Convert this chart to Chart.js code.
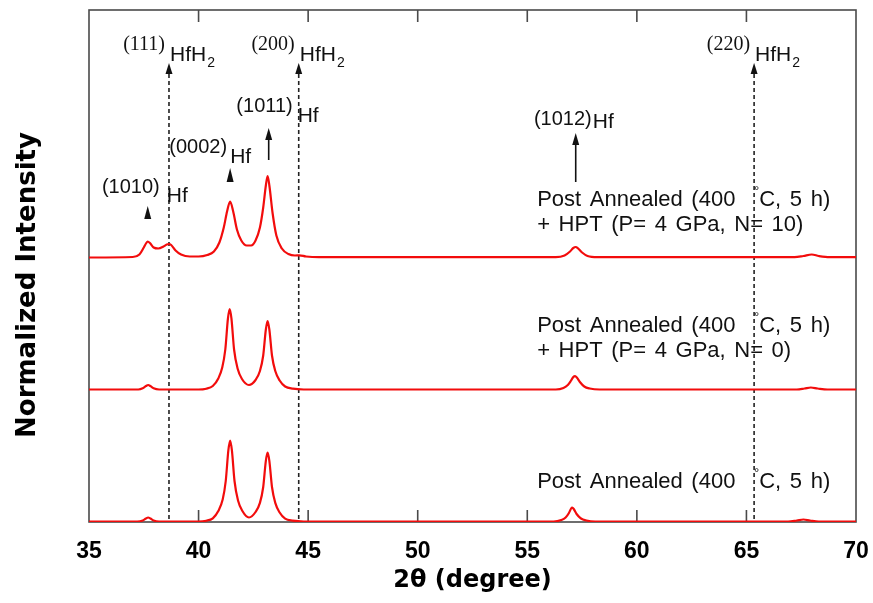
<!DOCTYPE html>
<html>
<head>
<meta charset="utf-8">
<style>
  html, body { margin: 0; padding: 0; background: #fff; }
  #xrd { display: block; }
</style>
</head>
<body>
<canvas id="xrd" width="873" height="603"></canvas>
<script src="https://cdn.jsdelivr.net/npm/chart.js@4.4.1/dist/chart.umd.min.js"></script>
<script>
// Post annealed (400 °C, 5 h), no HPT
const annealedTwoTheta = [35, 37.2, 37.45, 37.6, 37.7, 37.8, 37.95, 38.2,
  40.0, 40.35, 40.65, 40.9, 41.1, 41.24, 41.36, 41.44, 41.52, 41.64, 41.8, 42.0, 42.3,
  42.6, 42.8, 42.95, 43.07, 43.15, 43.23, 43.35, 43.5, 43.7, 43.95, 44.3, 44.8,
  56.2, 56.55, 56.75, 56.9, 57.0, 57.05, 57.12, 57.25, 57.45, 57.7, 58.1,
  66.9, 67.3, 67.6, 67.9, 68.3, 70];
const annealedIntensity = [0, 0, 0.01, 0.03, 0.04, 0.03, 0.01, 0,
  0, 0.008, 0.032, 0.105, 0.22, 0.405, 0.713, 0.81, 0.713, 0.405, 0.21, 0.105, 0.04,
  0.095, 0.186, 0.345, 0.607, 0.69, 0.607, 0.345, 0.186, 0.09, 0.028, 0.008, 0,
  0, 0.015, 0.04, 0.085, 0.13, 0.14, 0.125, 0.075, 0.03, 0.01, 0,
  0, 0.01, 0.02, 0.01, 0, 0];

// annealed + HPT, N = 0
const hpt0TwoTheta = [35, 37.25, 37.45, 37.6, 37.7, 37.8, 37.95, 38.2,
  40.0, 40.35, 40.65, 40.9, 41.08, 41.22, 41.34, 41.42, 41.5, 41.62, 41.78, 41.98, 42.3,
  42.6, 42.8, 42.95, 43.07, 43.15, 43.23, 43.35, 43.5, 43.7, 43.95, 44.3, 44.8,
  56.3, 56.65, 56.85, 57.0, 57.1, 57.18, 57.26, 57.4, 57.6, 57.85, 58.3,
  67.3, 67.65, 67.94, 68.25, 68.7, 70];
const hpt0Intensity = [0, 0, 0.012, 0.035, 0.045, 0.035, 0.012, 0,
  0, 0.008, 0.035, 0.11, 0.22, 0.40, 0.71, 0.805, 0.71, 0.40, 0.21, 0.105, 0.045,
  0.095, 0.185, 0.34, 0.60, 0.685, 0.60, 0.34, 0.185, 0.09, 0.03, 0.008, 0,
  0, 0.015, 0.045, 0.09, 0.125, 0.133, 0.12, 0.075, 0.03, 0.01, 0,
  0, 0.01, 0.02, 0.01, 0, 0];

// annealed + HPT, N = 10 (hydride peaks appear)
const hpt10TwoTheta = [35, 37.0, 37.3, 37.5, 37.6, 37.68, 37.78, 37.95, 38.16, 38.4,
  38.55, 38.65, 38.75, 38.95, 39.2, 39.6, 40.0, 40.4, 40.7, 40.95,
  41.15, 41.3, 41.44, 41.58, 41.75, 41.95, 42.2, 42.4, 42.6, 42.8,
  42.95, 43.07, 43.15, 43.23, 43.38, 43.55, 43.8, 44.1, 44.4, 44.6,
  44.9, 45.5, 56.3, 56.7, 56.95, 57.1, 57.21, 57.32, 57.5, 57.75,
  58.2, 67.2, 67.6, 67.98, 68.3, 68.8, 70];
const hpt10Intensity = [0, 0.005, 0.03, 0.1, 0.14, 0.16, 0.145, 0.1, 0.09, 0.11,
  0.13, 0.135, 0.125, 0.07, 0.03, 0.01, 0.01, 0.025, 0.06, 0.15,
  0.3, 0.46, 0.56, 0.46, 0.28, 0.17, 0.12, 0.12, 0.17, 0.3,
  0.5, 0.72, 0.815, 0.72, 0.44, 0.22, 0.09, 0.035, 0.02, 0.022,
  0.01, 0.003, 0.003, 0.02, 0.06, 0.095, 0.105, 0.09, 0.05, 0.015,
  0.003, 0.003, 0.015, 0.03, 0.015, 0.003, 0.003];

// vertical stacking of the three patterns
const curveOffsets = [0.005, 1.325, 2.645];

const xTicks = [35, 40, 45, 50, 55, 60, 65, 70];

// HfH2 reference positions and Hf reflections
const hydridePositions = [38.65, 44.57, 65.35];
const hydrideIndices = ["(111)", "(200)", "(220)"];
const hfPositions = [37.68, 41.44, 43.2, 57.21];
const hfIndices = ["(1010)", "(0002)", "(1011)", "(1012)"];

// sample conditions, one list of lines per pattern (° is raised when drawn)
const annealedLines = ["Post Annealed (400 °C, 5 h)"];
const hpt0Lines = ["Post Annealed (400 °C, 5 h)", "+ HPT (P= 4 GPa, N= 0)"];
const hpt10Lines = ["Post Annealed (400 °C, 5 h)", "+ HPT (P= 4 GPa, N= 10)"];

const RED = "#f20c0c";
const INK = "#111";
const SANS = "'Liberation Sans', Arial, sans-serif";
const TITLE_FONT = "'DejaVu Sans', sans-serif";

function toPoints(xs, ys, offset) {
  return xs.map((v, i) => ({ x: v, y: ys[i] + offset }));
}

// marker styles: triangle only, or arrow with a shaft
const hfMarkStyle = [
  { tip: 3.16, head: 13, shaftTo: null, indexEnd: 12, indexY: 3.29, hfStart: 19, hfY: 3.20 },
  { tip: 3.54, head: 14, shaftTo: null, indexEnd: -3, indexY: 3.69, hfStart: 0, hfY: 3.59 },
  { tip: 3.94, head: 12, shaftTo: 3.62, indexEnd: 24, indexY: 4.10, hfStart: 29, hfY: 4.00 },
  { tip: 3.89, head: 12, shaftTo: 3.40, indexEnd: 16, indexY: 3.97, hfStart: 17, hfY: 3.94 },
];
const hydrideArrow = { tip: 4.59, head: 11, indexY: 4.72, formulaY: 4.61 };
const conditionStyle = [
  { x: 55.45, y: [0.34], lines: annealedLines },
  { x: 55.45, y: [1.90, 1.65], lines: hpt0Lines },
  { x: 55.45, y: [3.16, 2.91], lines: hpt10Lines },
];

function arrowHead(ctx, px, tipY, h, w) {
  ctx.beginPath();
  ctx.moveTo(px, tipY);
  ctx.lineTo(px - w / 2, tipY + h);
  ctx.lineTo(px + w / 2, tipY + h);
  ctx.closePath();
  ctx.fill();
}

function drawCondition(ctx, text, px, py) {
  let cx = px;
  ctx.textAlign = "left";
  text.split("°").forEach((part, i) => {
    if (i > 0) {
      cx += 10;
      ctx.font = `13px ${SANS}`;
      ctx.fillText("°", cx, py - 11);
      cx += ctx.measureText("°").width;
    }
    ctx.font = `22px ${SANS}`;
    ctx.fillText(part, cx, py);
    cx += ctx.measureText(part).width;
  });
}

const frameAndLabels = {
  id: "frameAndLabels",
  beforeDatasetsDraw(chart) {
    const { ctx, chartArea: area, scales: { x, y } } = chart;
    ctx.save();
    ctx.strokeStyle = "#4a4a4a";
    ctx.lineWidth = 1.6;
    ctx.strokeRect(area.left, area.top, area.right - area.left, area.bottom - area.top);

    // inward ticks, bottom and top
    xTicks.slice(1, -1).forEach((t) => {
      const px = x.getPixelForValue(t);
      ctx.beginPath();
      ctx.moveTo(px, area.bottom);
      ctx.lineTo(px, area.bottom - 12);
      ctx.moveTo(px, area.top);
      ctx.lineTo(px, area.top + 12);
      ctx.stroke();
    });

    // dashed HfH2 lines
    ctx.strokeStyle = "#222";
    ctx.setLineDash([4, 3]);
    const startY = y.getPixelForValue(hydrideArrow.tip) + hydrideArrow.head;
    hydridePositions.forEach((pos) => {
      const px = x.getPixelForValue(pos);
      ctx.beginPath();
      ctx.moveTo(px, startY);
      ctx.lineTo(px, area.bottom);
      ctx.stroke();
    });
    ctx.restore();
  },
  afterDatasetsDraw(chart) {
    const { ctx, chartArea: area, scales: { x, y } } = chart;
    ctx.save();
    ctx.fillStyle = INK;
    ctx.strokeStyle = INK;
    ctx.textBaseline = "alphabetic";

    hydridePositions.forEach((pos, i) => {
      const px = x.getPixelForValue(pos);
      arrowHead(ctx, px, y.getPixelForValue(hydrideArrow.tip), hydrideArrow.head, 7);
      ctx.font = "20px 'Liberation Serif', serif";
      ctx.textAlign = "right";
      ctx.fillText(hydrideIndices[i], px - 4, y.getPixelForValue(hydrideArrow.indexY));
      ctx.textAlign = "left";
      ctx.font = `21px ${SANS}`;
      const fy = y.getPixelForValue(hydrideArrow.formulaY);
      ctx.fillText("HfH", px + 1, fy);
      const w = ctx.measureText("HfH").width;
      ctx.font = `14px ${SANS}`;
      ctx.fillText("2", px + 2 + w, fy + 6);
    });

    hfPositions.forEach((pos, i) => {
      const s = hfMarkStyle[i];
      const px = x.getPixelForValue(pos);
      const tipY = y.getPixelForValue(s.tip);
      arrowHead(ctx, px, tipY, s.head, 7);
      if (s.shaftTo !== null) {
        ctx.lineWidth = 1.6;
        ctx.beginPath();
        ctx.moveTo(px, tipY + s.head - 1);
        ctx.lineTo(px, y.getPixelForValue(s.shaftTo));
        ctx.stroke();
      }
      ctx.font = `20px ${SANS}`;
      ctx.textAlign = "right";
      ctx.fillText(hfIndices[i], px + s.indexEnd, y.getPixelForValue(s.indexY));
      ctx.font = `21px ${SANS}`;
      ctx.textAlign = "left";
      ctx.fillText("Hf", px + s.hfStart, y.getPixelForValue(s.hfY));
    });

    ctx.wordSpacing = "2.5px";
    conditionStyle.forEach((s) => {
      s.lines.forEach((line, j) => {
        drawCondition(ctx, line, x.getPixelForValue(s.x), y.getPixelForValue(s.y[j]));
      });
    });
    ctx.wordSpacing = "0px";

    // axis titles
    ctx.fillStyle = "#000";
    ctx.textAlign = "center";
    ctx.textBaseline = "middle";
    ctx.font = `bold 24px ${TITLE_FONT}`;
    ctx.fillText("2θ (degree)", (area.left + area.right) / 2, 581);
    ctx.translate(28, 285);
    ctx.rotate(-Math.PI / 2);
    ctx.font = `bold 26px ${TITLE_FONT}`;
    ctx.fillText("Normalized Intensity", 0, 0);
    ctx.restore();
  },
};

const series = [
  toPoints(annealedTwoTheta, annealedIntensity, curveOffsets[0]),
  toPoints(hpt0TwoTheta, hpt0Intensity, curveOffsets[1]),
  toPoints(hpt10TwoTheta, hpt10Intensity, curveOffsets[2]),
];

new Chart(document.getElementById("xrd"), {
  type: "line",
  data: {
    datasets: series.map((data) => ({
      data,
      borderColor: RED,
      borderWidth: 2.2,
      pointRadius: 0,
      fill: false,
      cubicInterpolationMode: "monotone",
    })),
  },
  options: {
    responsive: false,
    animation: false,
    devicePixelRatio: 1,
    layout: { padding: { top: 10, right: 17, bottom: 21, left: 89 } },
    plugins: { legend: { display: false }, tooltip: { enabled: false } },
    scales: {
      x: {
        type: "linear",
        min: 35,
        max: 70,
        grid: { display: false, drawTicks: false },
        border: { display: false },
        ticks: {
          stepSize: 5,
          autoSkip: false,
          maxRotation: 0,
          padding: 16.2,
          color: "#000",
          font: { family: "'Liberation Sans', sans-serif", size: 23, weight: "bold" },
        },
        // end labels may hang past the frame; keep the plot edges fixed
        afterFit(scale) {
          scale.paddingLeft = 0;
          scale.paddingRight = 0;
        },
      },
      y: {
        display: false,
        min: 0,
        max: 5.12,
      },
    },
  },
  plugins: [frameAndLabels],
});
</script>
</body>
</html>
